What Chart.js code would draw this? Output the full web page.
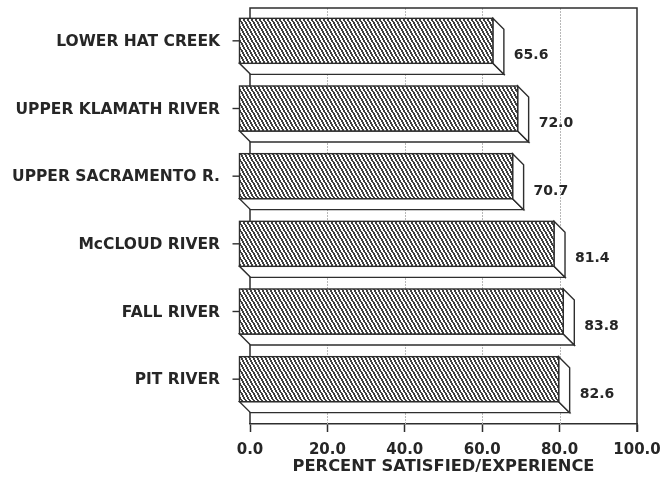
<!DOCTYPE html>
<html>
<head>
<meta charset="utf-8">
<script src="https://cdn.jsdelivr.net/npm/chart.js@4/dist/chart.umd.min.js"></script>
<style>
  html, body { margin: 0; padding: 0; background: #fff; }
</style>
</head>
<body>
<canvas id="chart" width="664" height="481"></canvas>
<script>
// --- data ---
var rivers = ['LOWER HAT CREEK', 'UPPER KLAMATH RIVER', 'UPPER SACRAMENTO R.', 'McCLOUD RIVER', 'FALL RIVER', 'PIT RIVER'];
var satisfied = [65.6, 72.0, 70.7, 81.4, 83.8, 82.6];
var xTicks = [0, 20, 40, 60, 80, 100];
var xTitle = 'PERCENT SATISFIED/EXPERIENCE';

var INK = '#2e2e2e';
var TEXT = '#262626';
var FONT = 'DejaVu Sans';
var DEPTH = 11; // 3D offset of the front face (up-left)

// steep "\" hatch used on the bar fronts, drawn pixel by pixel so it stays crisp
function makeHatch() {
  var w = 4, h = 7;
  var c = document.createElement('canvas');
  c.width = w; c.height = h;
  var g = c.getContext('2d');
  g.fillStyle = '#fff';
  g.fillRect(0, 0, w, h);
  g.fillStyle = '#404040';
  for (var r = 0; r < h; r++) {
    var x0 = Math.round(r * w / h) % w;
    g.fillRect(x0, r, 1, 1);
    g.fillRect((x0 + 1) % w, r, 1, 1);
  }
  return c;
}

var boxPlugin = {
  id: 'boxes',
  beforeDatasetsDraw: function(chart) {
    var ctx = chart.ctx, a = chart.chartArea, xs = chart.scales.x;
    ctx.save();
    // faint grid on the back wall
    ctx.strokeStyle = '#b8b8b8';
    ctx.lineWidth = 1;
    ctx.setLineDash([2, 1]);
    xTicks.forEach(function(v) {
      if (v === 0 || v === 100) return;
      var px = Math.round(xs.getPixelForValue(v)) + 0.5;
      ctx.beginPath();
      ctx.moveTo(px, a.top - 10);
      ctx.lineTo(px, a.bottom);
      ctx.stroke();
    });
    ctx.setLineDash([]);
    // frame: left wall, top and right edge
    ctx.strokeStyle = INK;
    ctx.lineWidth = 1.5;
    ctx.beginPath();
    ctx.moveTo(a.left, a.bottom);
    ctx.lineTo(a.left, a.top - 10);
    ctx.lineTo(a.right, a.top - 10);
    ctx.lineTo(a.right, a.bottom + 8);
    ctx.stroke();
    ctx.restore();
  },
  afterDatasetsDraw: function(chart) {
    var ctx = chart.ctx;
    var pattern = ctx.createPattern(makeHatch(), 'repeat');
    var d = DEPTH;
    ctx.save();
    ctx.lineWidth = 1.4;
    ctx.strokeStyle = INK;
    chart.getDatasetMeta(0).data.forEach(function(bar, i) {
      var p = bar.getProps(['x', 'y', 'base', 'height'], true);
      var top = p.y - p.height / 2, bot = p.y + p.height / 2;
      var L = p.base, R = p.x;

      // bottom face
      ctx.fillStyle = '#fff';
      ctx.beginPath();
      ctx.moveTo(L - d, bot - d);
      ctx.lineTo(R - d, bot - d);
      ctx.lineTo(R, bot);
      ctx.lineTo(L, bot);
      ctx.closePath();
      ctx.fill();
      ctx.stroke();

      // side face
      ctx.beginPath();
      ctx.moveTo(R - d, top - d);
      ctx.lineTo(R, top);
      ctx.lineTo(R, bot);
      ctx.lineTo(R - d, bot - d);
      ctx.closePath();
      ctx.fill();
      ctx.stroke();

      // front face
      ctx.fillStyle = pattern;
      ctx.fillRect(L - d, top - d, R - L, p.height);
      ctx.strokeRect(L - d, top - d, R - L, p.height);

      // category tick
      ctx.beginPath();
      ctx.moveTo(L - d - 7, p.y - d);
      ctx.lineTo(L - d, p.y - d);
      ctx.stroke();

      // value label
      ctx.fillStyle = TEXT;
      ctx.font = 'bold 14px ' + FONT;
      ctx.textAlign = 'left';
      ctx.textBaseline = 'middle';
      ctx.fillText(satisfied[i].toFixed(1), R + 10, p.y + 4);
    });
    ctx.restore();
  }
};

new Chart(document.getElementById('chart').getContext('2d'), {
  type: 'bar',
  data: {
    labels: rivers,
    datasets: [{
      data: satisfied,
      backgroundColor: 'rgba(0,0,0,0)',
      borderWidth: 0,
      barThickness: 45
    }]
  },
  options: {
    indexAxis: 'y',
    responsive: false,
    animation: false,
    layout: { padding: { left: 12, right: 27, top: 18, bottom: 4 } },
    plugins: {
      legend: { display: false },
      tooltip: { enabled: false }
    },
    scales: {
      x: {
        min: 0,
        max: 100,
        afterBuildTicks: function(scale) {
          scale.ticks = xTicks.map(function(v) { return { value: v }; });
        },
        afterFit: function(scale) {
          scale.height = 53;
          scale.paddingLeft = 0;
          scale.paddingRight = 0;
        },
        ticks: {
          padding: 9,
          color: TEXT,
          font: { family: FONT, size: 15, weight: 'bold' },
          callback: function(v) { return Number(v).toFixed(1); }
        },
        grid: { drawOnChartArea: false, drawTicks: true, tickLength: 8, tickColor: INK, tickWidth: 1.5 },
        border: { display: true, color: INK, width: 1.5 },
        title: {
          display: true,
          text: xTitle,
          color: TEXT,
          font: { family: FONT, size: 16.3, weight: 'bold' },
          padding: { top: 0, bottom: 0 }
        }
      },
      y: {
        afterFit: function(scale) {
          scale.width = 238;
          scale.paddingTop = 0;
          scale.paddingBottom = 0;
        },
        grid: { display: false, drawTicks: false },
        border: { display: false },
        ticks: {
          padding: 30,
          labelOffset: -10,
          color: TEXT,
          font: { family: FONT, size: 15.5, weight: 'bold' }
        }
      }
    }
  },
  plugins: [boxPlugin]
});
</script>
</body>
</html>
